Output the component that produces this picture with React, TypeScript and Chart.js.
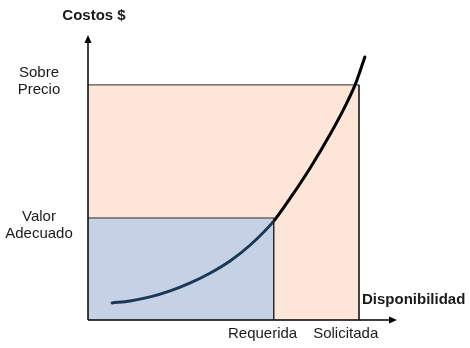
import React, { useEffect, useRef } from "react";
import { Chart, registerables } from "chart.js";

Chart.register(...registerables);

// Data (x: disponibilidad 0..100, y: costos 0..100)
const requerida = 60.1;
const solicitada = 87.7;
const valorAdecuado = 35.8;
const sobrePrecio = 82.5;

const curveX = [7.8, 13.6, 20.1, 26.6, 33.1, 39.6, 46.1, 52.6, 60.1, 65.6, 72.1, 78.6, 83.4, 86.7, 89.6];
const curveY = [6.0, 6.7, 8.1, 10.2, 13.0, 16.5, 20.8, 26.4, 34.7, 43.0, 53.7, 65.6, 75.4, 83.2, 92.3];

const xTickLabels = ["Requerida", "Solicitada"];
const xTickCenters = [56.5, 83.4];
const yTickLabels = [["Sobre", "Precio"], ["Valor", "Adecuado"]];
const yTickCenters = [83.8, 33.3];

const FONT = "'Liberation Sans', Arial, Helvetica, sans-serif";

const overlayPlugin = {
  id: "overlay",
  afterDraw(chart: any) {
    const { ctx, chartArea, scales } = chart;
    const xs = scales.x;
    const ys = scales.y;
    const left = chartArea.left;
    const bottom = chartArea.bottom;
    const top = chartArea.top;
    const right = chartArea.right;
    ctx.save();
    ctx.strokeStyle = "#000";
    ctx.fillStyle = "#000";
    ctx.lineWidth = 1.5;
    ctx.beginPath();
    ctx.moveTo(left, bottom);
    ctx.lineTo(left, top + 6);
    ctx.moveTo(left, bottom);
    ctx.lineTo(right - 6, bottom);
    ctx.stroke();
    ctx.beginPath();
    ctx.moveTo(left, top);
    ctx.lineTo(left - 3.5, top + 8);
    ctx.lineTo(left + 3.5, top + 8);
    ctx.closePath();
    ctx.fill();
    ctx.beginPath();
    ctx.moveTo(right, bottom);
    ctx.lineTo(right - 8, bottom - 3.5);
    ctx.lineTo(right - 8, bottom + 3.5);
    ctx.closePath();
    ctx.fill();

    ctx.fillStyle = "#1a1a1a";
    ctx.textAlign = "center";
    ctx.textBaseline = "middle";
    ctx.font = `15px ${FONT}`;
    xTickLabels.forEach((t, i) => {
      ctx.fillText(t, xs.getPixelForValue(xTickCenters[i]), bottom + 14);
    });
    yTickLabels.forEach((lines, i) => {
      const cy = ys.getPixelForValue(yTickCenters[i]);
      lines.forEach((ln, j) => {
        ctx.fillText(ln, 39, cy + (j - (lines.length - 1) / 2) * 17);
      });
    });
    ctx.font = `bold 15px ${FONT}`;
    ctx.fillText("Costos $", 94, 16);
    ctx.textAlign = "left";
    ctx.fillText("Disponibilidad", 362, bottom - 20);
    ctx.restore();
  },
};

export default function App() {
  const ref = useRef<HTMLCanvasElement>(null);
  useEffect(() => {
    if (!ref.current) return;
    const chart = new Chart(ref.current, {
      type: "scatter",
      data: {
        datasets: [
          {
            label: "Valor Adecuado",
            data: [
              { x: 0, y: valorAdecuado },
              { x: requerida, y: valorAdecuado },
              { x: requerida, y: 0 },
            ],
            showLine: true,
            fill: "origin",
            backgroundColor: "rgba(85,170,255,0.33)",
            borderColor: "#2a2a2a",
            borderWidth: 1,
            pointRadius: 0,
            tension: 0,
            order: 0,
          } as any,
          {
            label: "Costo",
            data: curveX.map((x, i) => ({ x, y: curveY[i] })),
            showLine: true,
            fill: false,
            borderColor: "#000",
            borderWidth: 3,
            borderCapStyle: "round",
            pointRadius: 0,
            cubicInterpolationMode: "monotone",
            order: 1,
          } as any,
          {
            label: "Sobre Precio",
            data: [
              { x: 0, y: sobrePrecio },
              { x: solicitada, y: sobrePrecio },
              { x: solicitada, y: 0 },
            ],
            showLine: true,
            fill: "origin",
            backgroundColor: "#FDE5D8",
            borderColor: "#2a2a2a",
            borderWidth: 1,
            pointRadius: 0,
            tension: 0,
            order: 2,
          } as any,
        ],
      },
      options: {
        animation: false,
        responsive: true,
        maintainAspectRatio: false,
        layout: { padding: { left: 88, top: 35, right: 73, bottom: 28 } },
        plugins: { legend: { display: false }, tooltip: { enabled: false } },
        scales: {
          x: { type: "linear", min: 0, max: 100, display: false },
          y: { type: "linear", min: 0, max: 100, display: false },
        },
      },
      plugins: [overlayPlugin],
    });
    return () => chart.destroy();
  }, []);
  return (
    <div style={{ position: "fixed", left: 0, top: 0, width: 470, height: 348, background: "#fff" }}>
      <canvas ref={ref} />
    </div>
  );
}
